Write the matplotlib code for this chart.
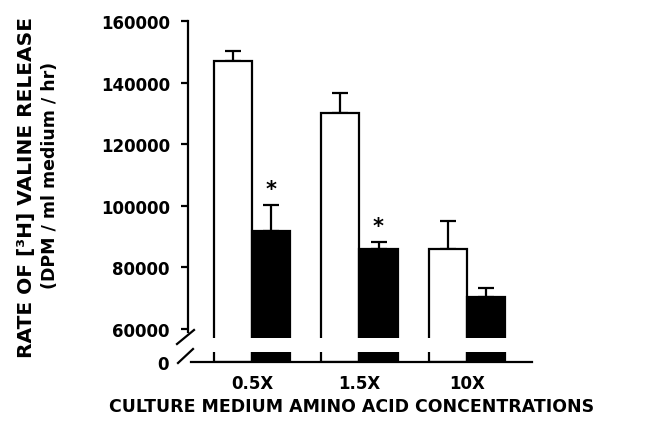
import matplotlib
matplotlib.use("Agg")
import matplotlib.pyplot as plt
import numpy as np
from matplotlib.lines import Line2D

# Data
categories = ["0.5X", "1.5X", "10X"]
control_vals = [147000, 130000, 85800]
control_err = [3400, 6500, 9200]
treated_vals = [91800, 85800, 70300]
treated_err = [8400, 2300, 3100]
significant = [True, True, False]
yticks = [60000, 80000, 100000, 120000, 140000, 160000]

W, H = 648, 431
fig = plt.figure(figsize=(W / 100, H / 100), dpi=100)
plt.rcParams['font.family'] = ['DejaVu Sans']

def fx(px):
    return px / W

def fy(py):
    return 1 - py / H

left_px, right_px = 188, 532
top_px, upbot_px = 22, 339
lowtop_px, lowbot_px = 352.5, 363

ax = fig.add_axes([fx(left_px), fy(upbot_px), fx(right_px) - fx(left_px), fy(top_px) - fy(upbot_px)])
axl = fig.add_axes([fx(left_px), fy(lowbot_px), fx(right_px) - fx(left_px), fy(lowtop_px) - fy(lowbot_px)])

x = np.arange(len(categories))
bw = 0.355
xlim = (-0.595, 2.605)
lw = 1.6

for a in (ax, axl):
    a.bar(x - bw / 2, control_vals, bw, color="white", edgecolor="black", linewidth=lw, zorder=2)
    a.bar(x + bw / 2, treated_vals, bw, color="black", edgecolor="black", linewidth=lw, zorder=2)
    a.set_xlim(*xlim)

ax.errorbar(x - bw / 2, control_vals, yerr=[np.zeros(3), control_err], fmt="none",
            ecolor="black", elinewidth=lw, capsize=6, capthick=lw, zorder=1)
ax.errorbar(x + bw / 2, treated_vals, yerr=[np.zeros(3), treated_err], fmt="none",
            ecolor="black", elinewidth=lw, capsize=6, capthick=lw, zorder=1)

for xi, v, e, s in zip(x, treated_vals, treated_err, significant):
    if s:
        ax.text(xi + bw / 2, v + e + 5200, "*", ha="center", va="center",
                fontsize=15, fontweight="bold")

ax.set_ylim(57000, 160000)
ax.set_yticks(yticks)
ax.set_yticklabels([str(t) for t in yticks])
ax.spines[["top", "right", "bottom"]].set_visible(False)
ax.spines["left"].set_linewidth(lw)
ax.spines["left"].set_bounds(58800, 160000)
ax.tick_params(axis="y", direction="out", length=5, width=lw, pad=8, labelsize=12)
for t in ax.get_yticklabels():
    t.set_fontweight("bold")
ax.set_xticks([])

axl.set_ylim(0, 3500)
axl.set_yticks([0])
axl.set_yticklabels(["0"])
axl.tick_params(axis="y", length=0, pad=14, labelsize=12)
for t in axl.get_yticklabels():
    t.set_fontweight("bold")
axl.spines[["top", "right", "left"]].set_visible(False)
axl.spines["bottom"].set_linewidth(lw)
axl.spines["bottom"].set_bounds(-0.57, xlim[1])
axl.set_xticks(x)
axl.set_xticklabels(categories)
axl.tick_params(axis="x", length=0, pad=9, labelsize=12)
for t in axl.get_xticklabels():
    t.set_fontweight("bold")

# axis break slashes
for (x0, y0, x1, y1) in [(177, 345, 194, 331), (178, 364, 193, 350)]:
    fig.add_artist(Line2D([fx(x0), fx(x1)], [fy(y0), fy(y1)], color="black", lw=lw))

fig.text(fx(27), fy(187), "RATE OF [³H] VALINE RELEASE", rotation=90, ha="center", va="center",
         fontsize=14.5, fontweight="bold")
fig.text(fx(50), fy(175), "(DPM / ml medium / hr)", rotation=90, ha="center", va="center",
         fontsize=12.5, fontweight="bold")
fig.text(fx(352), fy(407), "CULTURE MEDIUM AMINO ACID CONCENTRATIONS", ha="center", va="center",
         fontsize=12.5, fontweight="bold")

fig.savefig("out.png", dpi=100, facecolor="white")
